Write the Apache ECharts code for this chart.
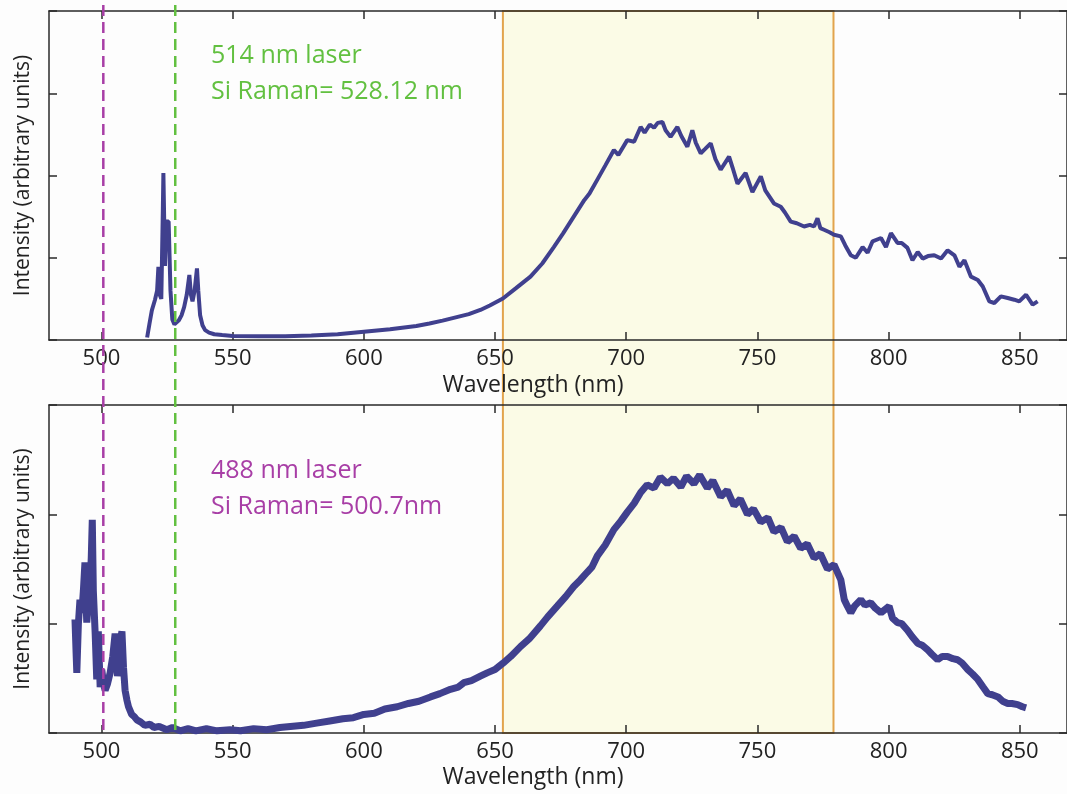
<!DOCTYPE html>
<html>
<head>
<meta charset="utf-8">
<script src="https://cdn.jsdelivr.net/npm/echarts@6/dist/echarts.min.js"></script>
<style>
html,body{margin:0;padding:0;background:#fdfdfd;}
#chart{width:1067px;height:794px;}
</style>
</head>
<body>
<div id="chart"></div>
<script>
// ---- data ----
const xTicks = [500, 550, 600, 650, 700, 750, 800, 850];
const xName = 'Wavelength (nm)';
const yName = 'Intensity (arbitrary units)';
const label514 = ['514 nm laser', 'Si Raman= 528.12 nm'];
const label488 = ['488 nm laser', 'Si Raman= 500.7nm'];
const raman514 = 528.12;
const raman488 = 500.7;
const highlightRange = [653, 779];

const wl514 = [517.4,518.3,519.2,520.4,521.2,521.7,522.2,522.8,523.4,523.6,524.2,524.7,525.6,526.3,527.0,527.8,528.5,529.5,530.5,531.5,532.5,533.5,534.1,534.7,535.5,536.4,536.9,537.6,538.5,539.5,541,543,546,550,560,570,580,590,600,610,620,625,630,635,640,644.4,648,653,658,663.5,668,672.4,676,680,684,686,689,692,695.3,697,700.4,703,705.5,707,709,710.6,712,713.8,715,716.9,719.5,721,723.3,725.2,726.5,728.4,730,732.2,734,736,739.2,740.5,742.4,745.5,748.1,751.3,753,756.3,758.9,760.5,762.7,765,767.8,770,771.6,772.9,774,775.4,777.5,779.2,781.8,783.5,785.6,787.5,790.1,792,793.9,797.1,799,800.9,803.4,805,807.2,809.1,811.1,813,815,817.4,820,822.5,825.1,827,828.9,831.4,834,835.9,838.4,840.3,842.8,845.4,847.9,849.8,852.4,854.9,856.8];
const int514 = [0.03,0.2,0.36,0.49,0.6,0.89,0.55,0.5,1.6,2.03,0.9,1.44,1.44,0.6,0.25,0.19,0.2,0.24,0.3,0.4,0.55,0.79,0.55,0.47,0.6,0.87,0.6,0.3,0.18,0.12,0.09,0.07,0.06,0.05,0.045,0.045,0.055,0.07,0.10,0.13,0.17,0.20,0.235,0.275,0.315,0.365,0.42,0.505,0.63,0.77,0.93,1.13,1.30,1.50,1.70,1.78,1.95,2.12,2.31,2.25,2.43,2.41,2.59,2.52,2.62,2.58,2.64,2.65,2.55,2.47,2.59,2.48,2.35,2.55,2.4,2.27,2.32,2.39,2.2,2.07,2.23,2.1,1.90,2.03,1.80,1.99,1.82,1.66,1.62,1.55,1.44,1.42,1.38,1.40,1.38,1.48,1.36,1.34,1.31,1.28,1.26,1.15,1.03,1.00,1.13,1.06,1.20,1.24,1.13,1.30,1.18,1.18,1.12,0.97,1.07,0.99,1.02,1.03,0.99,1.09,1.03,0.89,0.97,0.77,0.73,0.65,0.47,0.45,0.53,0.51,0.49,0.47,0.55,0.43,0.47];

const wl488 = [489.9,490.3,490.6,491.2,491.8,492.5,493.1,493.7,494.1,494.4,495.0,495.6,496.1,496.5,496.9,497.6,498.2,498.8,499.5,500.1,500.8,501.4,502.3,503.3,504.3,505.2,505.7,506.1,506.9,507.8,508.4,509.0,509.7,510.3,511.5,512.5,513.5,515,516.5,518.5,520,522,524.9,527,530,533,536,540,544,549,553,558,563,568,572,577,582,587,592,596,600,604,608,612.7,617,621,625.4,629,633,636,638.1,641,644.4,647,650,653.1,656,659.7,663,667.3,670,673.7,677,680,682.5,685.1,687,689,692,695.3,698,700.4,703,705.5,708,710.6,713,715.7,718,720.8,723,725.8,728,730.9,733,736,738.5,741.1,743.5,746.2,748.5,751.3,754,756.3,759,761.4,764,766.5,769,771.6,774,776.7,779.2,781.8,783.1,784.3,785.6,787,789.4,791,793.2,795,797.1,800.2,801.5,803.4,805,807.2,809,811.1,813,814.9,816.5,818.7,820.5,822.5,824.5,826.3,828,830.2,832,834,836,837.8,839.5,841.7,843.5,845.4,847,849.2,851,852.4];
const int488 = [1.04,0.75,0.55,1.0,1.22,1.10,1.3,1.56,1.2,1.01,1.2,1.34,1.6,1.95,1.3,0.91,0.49,0.93,0.42,0.58,0.45,0.39,0.45,0.55,0.7,0.91,0.75,0.52,0.8,0.93,0.6,0.39,0.3,0.24,0.17,0.15,0.12,0.1,0.07,0.08,0.05,0.06,0.03,0.05,0.02,0.04,0.02,0.04,0.02,0.03,0.02,0.04,0.03,0.05,0.06,0.07,0.09,0.11,0.13,0.14,0.17,0.18,0.22,0.24,0.27,0.29,0.33,0.36,0.40,0.42,0.46,0.48,0.52,0.55,0.58,0.64,0.70,0.79,0.86,0.98,1.06,1.16,1.25,1.34,1.40,1.47,1.52,1.62,1.72,1.86,1.94,2.02,2.10,2.20,2.27,2.24,2.34,2.28,2.33,2.25,2.35,2.28,2.36,2.24,2.31,2.16,2.22,2.08,2.14,2.00,2.05,1.93,1.97,1.84,1.88,1.75,1.80,1.69,1.73,1.60,1.64,1.50,1.54,1.40,1.22,1.16,1.10,1.16,1.22,1.17,1.19,1.14,1.10,1.16,1.05,1.01,1.00,0.94,0.88,0.82,0.80,0.76,0.72,0.67,0.70,0.70,0.68,0.67,0.64,0.58,0.54,0.49,0.42,0.36,0.35,0.33,0.29,0.27,0.27,0.26,0.24,0.23];

// ---- styles ----
const FONT = '"Open Sans", "Noto Sans", sans-serif';
const AX = '#2a2a2a';
const LINE = '#40408e';
const GREEN = '#62c040';
const MAGENTA = '#a83ea6';
const LABEL_SIZE = 21;
const TICK_SIZE = 22;
const XNAME_SIZE = 23;
const NOTE_SIZE = 25;

function zip(a, b) { return a.map((v, i) => [v, b[i]]); }

function xAxes(gi) {
  const common = {
    type: 'value', gridIndex: gi, min: 480, max: 868,
    splitLine: { show: false },
    axisLine: { show: true, onZero: false, lineStyle: { color: AX, width: 1.5 } },
    axisTick: { show: true, inside: true, length: 8, customValues: xTicks, lineStyle: { color: AX, width: 1.5 } }
  };
  return [
    Object.assign({}, common, { position: 'bottom',
      axisLabel: { show: true, customValues: xTicks, margin: 8, fontSize: TICK_SIZE, color: '#222', fontFamily: FONT } }),
    Object.assign({}, common, { position: 'top', axisLabel: { show: false } })
  ];
}
function yAxes(gi, max) {
  const common = {
    type: 'value', gridIndex: gi, min: 0, max: max, interval: 1,
    splitLine: { show: false },
    axisLabel: { show: false },
    axisLine: { show: true, onZero: false, lineStyle: { color: AX, width: 1.5 } },
    axisTick: { show: true, inside: true, length: 8, lineStyle: { color: AX, width: 1.5 } }
  };
  return [
    Object.assign({}, common, { position: 'left', name: yName, nameLocation: 'middle', nameGap: 15,
      nameRotate: 90, nameTextStyle: { fontSize: LABEL_SIZE, color: '#222', fontFamily: FONT } }),
    Object.assign({}, common, { position: 'right' })
  ];
}

const chart = echarts.init(document.getElementById('chart'), null, { renderer: 'canvas' });
chart.setOption({
  animation: false,
  backgroundColor: '#fdfdfd',
  grid: [
    { left: 49, top: 11, right: 0, height: 329 },
    { left: 49, top: 405, right: 0, height: 328 }
  ],
  xAxis: xAxes(0).concat(xAxes(1)),
  yAxis: yAxes(0, 4).concat(yAxes(1, 3)),
  series: [
    { type: 'line', xAxisIndex: 0, yAxisIndex: 0, data: zip(wl514, int514), showSymbol: false,
      lineStyle: { color: LINE, width: 4 }, z: 5 },
    { type: 'line', xAxisIndex: 2, yAxisIndex: 2, data: zip(wl488, int488), showSymbol: false,
      lineStyle: { color: LINE, width: 7 }, z: 5 }
  ]
});

// ---- overlays computed from data coordinates ----
const px = v => chart.convertToPixel({ xAxisIndex: 0 }, v);
const topY = chart.convertToPixel({ yAxisIndex: 0 }, 4);
const botY = chart.convertToPixel({ yAxisIndex: 2 }, 0);
const x0 = px(highlightRange[0]), x1 = px(highlightRange[1]);

function textEl(x, y, t, color, size) {
  return { type: 'text', x: x, y: y, z: 20,
    style: { text: t, fill: color, font: size + 'px ' + FONT, textVerticalAlign: 'middle', textAlign: 'left' } };
}
function centerText(x, y, t) {
  return { type: 'text', x: x, y: y, z: 20,
    style: { text: t, fill: '#222', font: XNAME_SIZE + 'px ' + FONT, textVerticalAlign: 'middle', textAlign: 'center' } };
}

chart.setOption({
  graphic: [
    { type: 'rect', z: -1, shape: { x: x0, y: topY, width: x1 - x0, height: botY - topY },
      style: { fill: '#fbfbe6', stroke: '#e2a44c', lineWidth: 2 } },
    { type: 'line', z: 30, shape: { x1: px(raman488), y1: 5, x2: px(raman488), y2: botY + 2 },
      style: { stroke: MAGENTA, lineWidth: 2.5, lineDash: [11, 6] } },
    { type: 'line', z: 30, shape: { x1: px(raman514), y1: 5, x2: px(raman514), y2: botY + 2 },
      style: { stroke: GREEN, lineWidth: 2.5, lineDash: [11, 6] } },
    textEl(211, 56, label514[0], GREEN, NOTE_SIZE),
    textEl(211, 92, label514[1], GREEN, NOTE_SIZE),
    textEl(211, 471, label488[0], MAGENTA, NOTE_SIZE),
    textEl(211, 507, label488[1], MAGENTA, NOTE_SIZE),
    centerText(533, 385, xName),
    centerText(533, 777, xName)
  ]
});
</script>
</body>
</html>
